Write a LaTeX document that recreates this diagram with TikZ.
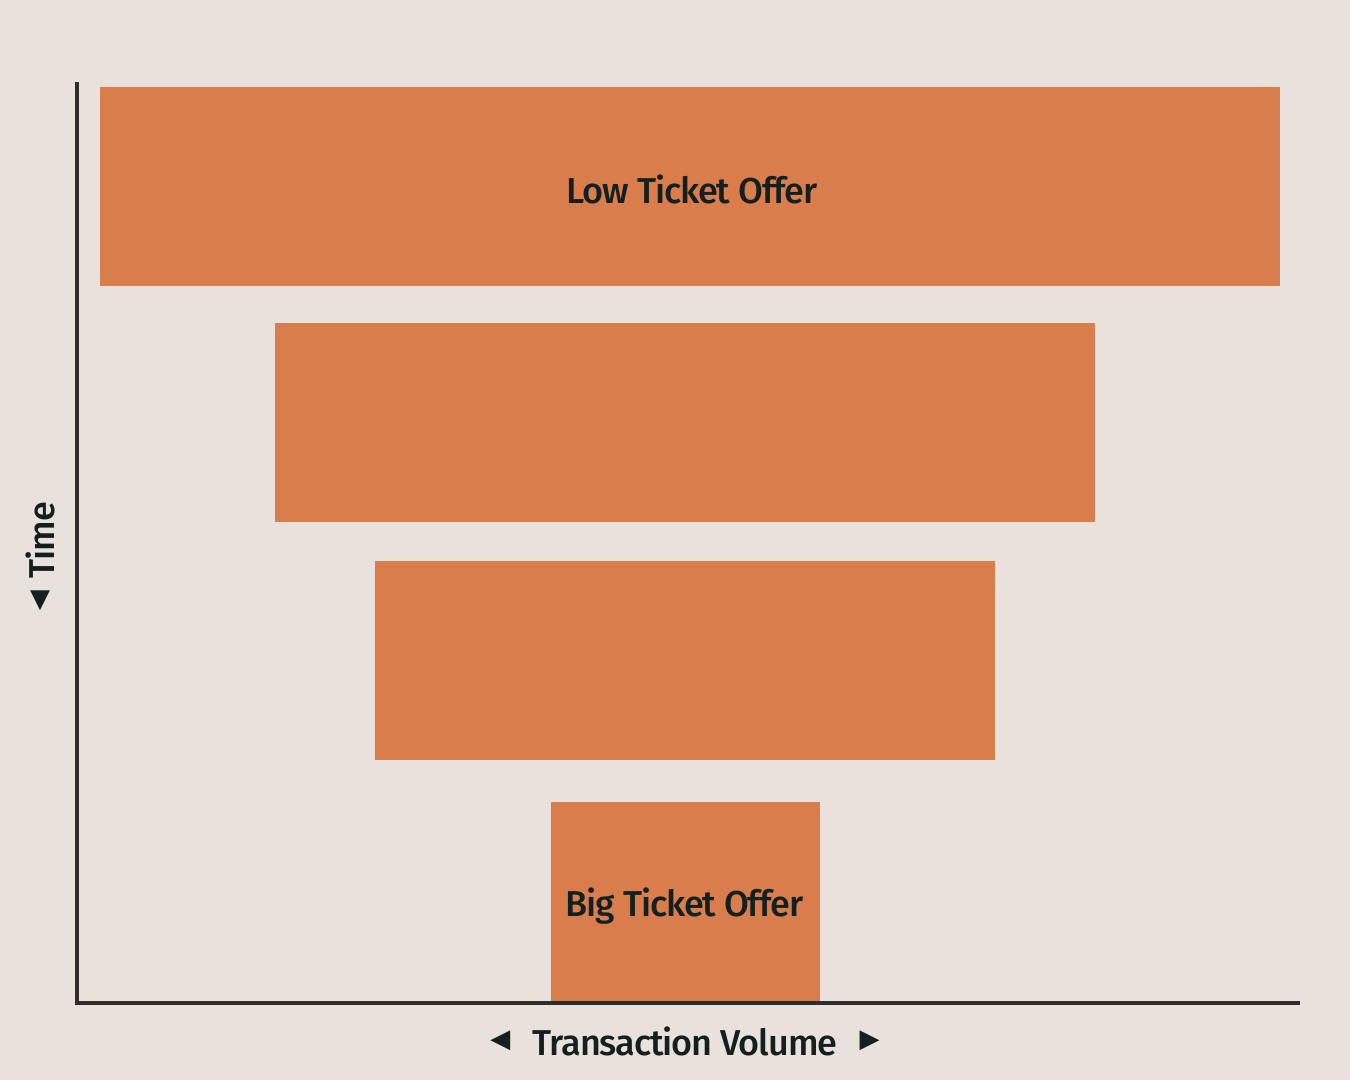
\documentclass[tikz,border=0pt]{standalone}
\usepackage{fontspec}
\setmainfont{Fira Sans}[UprightFont={Fira Sans Medium}, LetterSpace=-3]
\newfontfamily\symfont{DejaVu Sans}
\usetikzlibrary{positioning}
\definecolor{paper}{HTML}{E9E1DB}
\definecolor{offer}{HTML}{D97D4C}
\definecolor{ink}{HTML}{14201F}
\definecolor{axis}{HTML}{2E2E2E}
\tikzset{
  bar/.style={fill=offer, inner sep=0pt, minimum height=199pt},
  barlabel/.style={text=ink, inner sep=0pt, font=\fontsize{36}{40}\selectfont},
  axislabel/.style={text=ink, inner sep=0pt, font=\fontsize{36}{42}\selectfont},
  tri/.style={text=ink, inner sep=0pt, font=\symfont\fontsize{26}{28}\selectfont}
}
\begin{document}
\begin{tikzpicture}[x=1pt, y=-1pt]
        \useasboundingbox[fill=paper] (0,0) rectangle (1350,1080);

        \node [bar, minimum width=1180pt] (low)  at (690,186.5)  {};
        \node [bar, minimum width=820pt]  (mid1) at (685,422.5)  {};
        \node [bar, minimum width=620pt]  (mid2) at (685,660.5)  {};
        \node [bar, minimum width=269pt, minimum height=200pt] (big) at (685.5,902) {};
        \node [barlabel] (lowtext) at ([xshift=2pt,yshift=-3pt] low.center) {Low Ticket Offer};
        \node [barlabel] (bigtext) at ([xshift=-1pt,yshift=-4pt] big.center) {Big Ticket Offer};

        \coordinate (ytop)   at (77,82);
        \coordinate (origin) at (77,1003);
        \coordinate (xend)   at (1300,1003);
        \draw [axis, line width=4pt] (ytop) -- (origin) -- (xend);

        \node [axislabel, rotate=90] (time) at (40,540) {Time};
        \node [tri] (timearrow) [below = 12pt of time.west] {▼};

        \node [axislabel] (volume) at (685,1041) {Transaction Volume};
        \node [tri] (volleft)  [left = 22pt of volume]  {◀};
        \node [tri] (volright) [right = 22pt of volume] {▶};
\end{tikzpicture}
\end{document}
